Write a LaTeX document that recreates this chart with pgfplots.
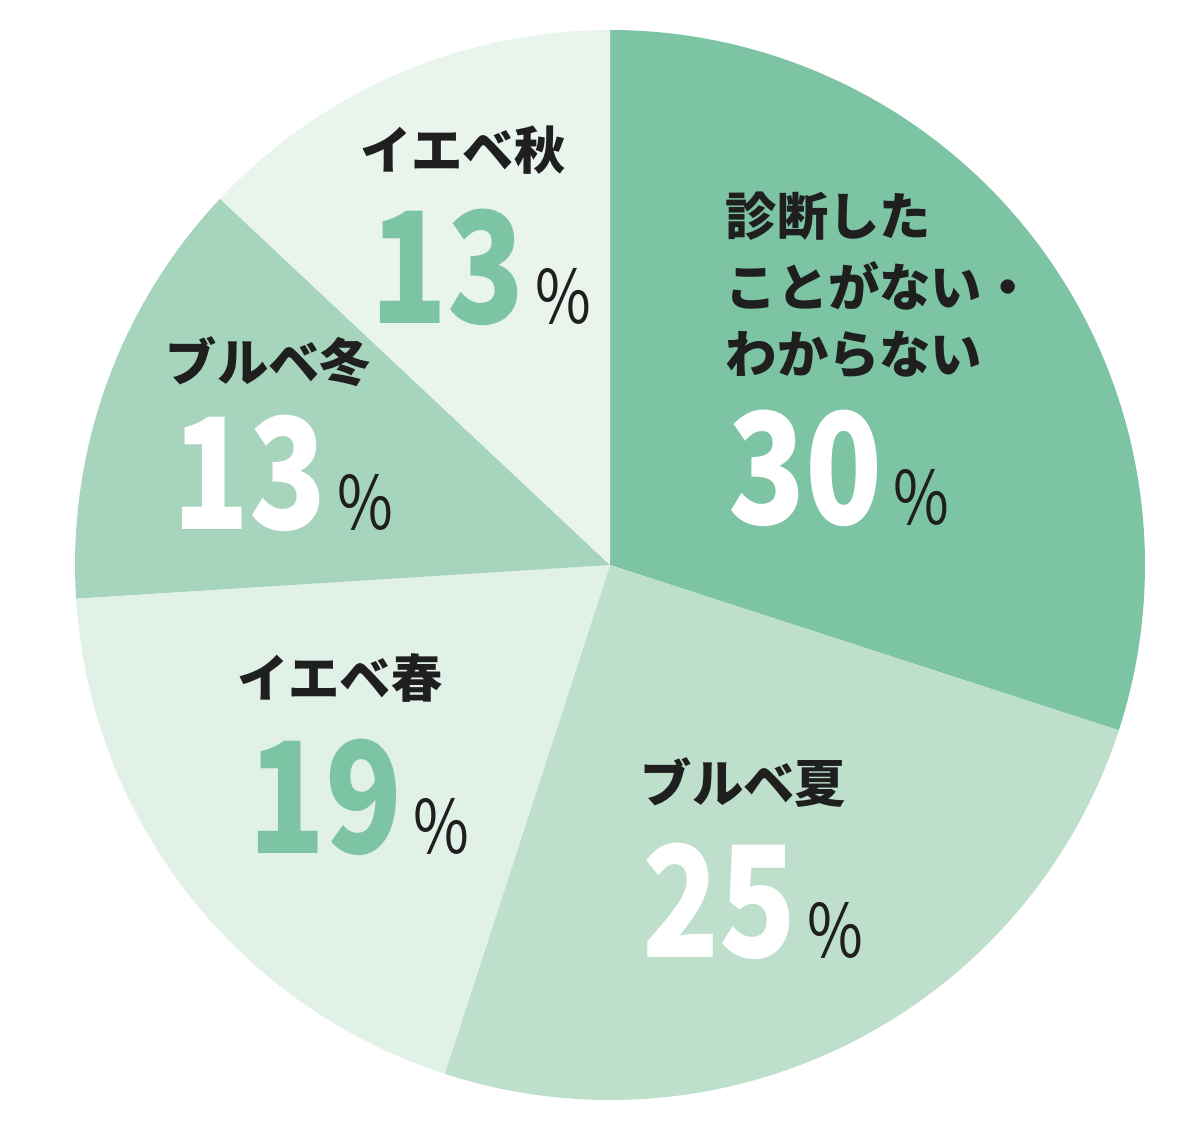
\documentclass[border=0pt]{standalone}
\usepackage{pgfplots}
\pgfplotsset{compat=1.18}
\usepackage{pgfplotstable}
\usepackage{fontspec}
\newfontfamily\jp{Noto Sans CJK JP}
\newfontfamily\numfont[FakeStretch=0.82]{Noto Sans CJK JP}
\definecolor{c1}{HTML}{7DC4A5}
\definecolor{c2}{HTML}{BDDFCB}
\definecolor{c3}{HTML}{E2F1E8}
\definecolor{c4}{HTML}{A6D4BD}
\definecolor{c5}{HTML}{E9F4ED}
\definecolor{txt}{HTML}{1F1F1F}
\definecolor{grn}{HTML}{7DC4A5}

\pgfplotstableread{
share colour
30 c1
25 c2
19 c3
13 c4
13 c5
}\piedata

\newcommand\lab[3]{\node[anchor=base west, inner sep=0pt, text=txt, font=\jp\bfseries\fontsize{14.6}{18}\selectfont] at (axis cs:#1,#2) {#3};}
\newcommand\pct[4]{\node[anchor=base west, inner sep=0pt] at (axis cs:#1,#2) {\numfont\bfseries\fontsize{44}{44}\selectfont\color{#3}#4\hspace{3pt}{\mdseries\fontsize{21}{21}\selectfont\color{txt}\%}};}

\begin{document}
\begin{tikzpicture}
\begin{axis}[hide axis, scale only axis, width=12cm, height=11.42cm,
  xmin=0, xmax=1200, ymin=0, ymax=1142, clip=false]
\path (axis cs:0,0) rectangle (axis cs:1200,1142);
\def\angA{90}
\pgfplotsforeachungrouped \i in {0,...,4}{%
  \pgfplotstablegetelem{\i}{share}\of\piedata \let\v\pgfplotsretval
  \pgfplotstablegetelem{\i}{colour}\of\piedata \let\slicecol\pgfplotsretval
  \pgfmathsetmacro\angB{\angA-3.6*\v}%
  \edef\temp{\noexpand\fill[\slicecol] (axis cs:610,577) -- ++(\angA:5.35cm) arc[start angle=\angA, end angle=\angB, radius=5.35cm] -- cycle;}%
  \temp
  \global\let\angA\angB
}
\lab{725}{906}{診断した}
\lab{725}{836}{ことがない・}
\lab{725}{768}{わからない}
\pct{728}{617}{white}{30}
\lab{640}{340}{ブルベ夏}
\pct{642}{185}{white}{25}
\lab{237}{445}{イエベ春}
\pct{248}{289}{grn}{19}
\lab{165}{761}{ブルベ冬}
\pct{172}{612}{white}{13}
\lab{360}{972}{イエベ秋}
\pct{370}{819}{grn}{13}
\end{axis}
\end{tikzpicture}
\end{document}
